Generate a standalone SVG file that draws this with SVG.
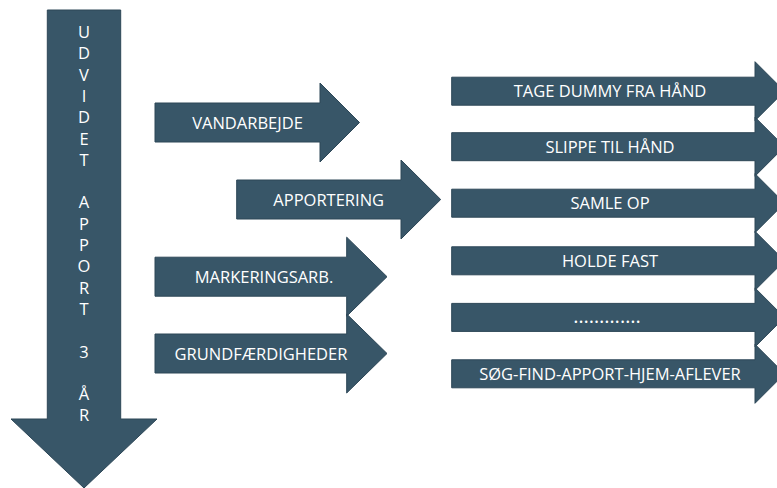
<svg xmlns="http://www.w3.org/2000/svg" width="777" height="488" viewBox="0 0 777 488">
<style>
.a{fill:#385668;stroke:#2d4757;stroke-width:1}
.t{font-family:"Open Sans","DejaVu Sans",sans-serif;font-size:16.5px;fill:#ffffff;text-anchor:middle}
</style>
<rect width="777" height="488" fill="#ffffff"/>
<g id="udvidet-apport">
<path class="a" d="M47.3,10 H120.7 V419 H157 L84,488 L11,419 H47.3 Z"/>
<text class="t" x="84" y="38">U</text>
<text class="t" x="84" y="59.3">D</text>
<text class="t" x="84" y="80.6">V</text>
<text class="t" x="84" y="101.9">I</text>
<text class="t" x="84" y="123.2">D</text>
<text class="t" x="84" y="144.5">E</text>
<text class="t" x="84" y="165.8">T</text>
<text class="t" x="84" y="208.4">A</text>
<text class="t" x="84" y="229.7">P</text>
<text class="t" x="84" y="251">P</text>
<text class="t" x="84" y="272.3">O</text>
<text class="t" x="84" y="293.6">R</text>
<text class="t" x="84" y="314.9">T</text>
<text class="t" x="84" y="357.5">3</text>
<text class="t" x="84" y="400.1">Å</text>
<text class="t" x="84" y="421.4">R</text>
</g>
<g id="vandarbejde">
<path class="a" d="M155,103 H320 V83 L359.5,122.5 L320,162 V142 H155 Z"/>
<text class="t" x="247.5" y="128.5">VANDARBEJDE</text>
</g>
<g id="apportering">
<path class="a" d="M236.7,180 H401 V160 L440.7,199.5 L401,239 V219 H236.7 Z"/>
<text class="t" x="328.7" y="205.5">APPORTERING</text>
</g>
<g id="markeringsarb">
<path class="a" d="M155,257.2 H346.7 V237.2 L387,276.7 L346.7,316.2 V296.2 H155 Z"/>
<text class="t" x="264" y="282.7">MARKERINGSARB.</text>
</g>
<g id="grundfaerdigheder">
<path class="a" d="M155,334 H346.7 V314 L387,353.5 L346.7,393 V373 H155 Z"/>
<text class="t" x="261" y="359.5">GRUNDFÆRDIGHEDER</text>
</g>
<g id="tage-dummy">
<path class="a" d="M451.7,77.2 H755 V61.7 L784.5,91.2 L755,120.7 V105.2 H451.7 Z"/>
<text class="t" x="610" y="97.2">TAGE DUMMY FRA HÅND</text>
</g>
<g id="slippe">
<path class="a" d="M451.7,132.7 H755 V117.2 L784.5,146.7 L755,176.2 V160.7 H451.7 Z"/>
<text class="t" x="610" y="152.7">SLIPPE TIL HÅND</text>
</g>
<g id="samle-op">
<path class="a" d="M451.7,189.2 H755 V173.7 L784.5,203.2 L755,232.7 V217.2 H451.7 Z"/>
<text class="t" x="610" y="209.2">SAMLE OP</text>
</g>
<g id="holde-fast">
<path class="a" d="M451.7,246.8 H755 V231.3 L784.5,260.8 L755,290.3 V274.8 H451.7 Z"/>
<text class="t" x="610" y="266.8">HOLDE FAST</text>
</g>
<g id="dots">
<path class="a" d="M451.7,303.4 H755 V287.9 L784.5,317.4 L755,346.9 V331.4 H451.7 Z"/>
<text class="t" x="607" y="323.4" style="font-size:20px">………….</text>
</g>
<g id="soeg-find">
<path class="a" d="M451.7,359.8 H755 V344.3 L784.5,373.8 L755,403.3 V387.8 H451.7 Z"/>
<text class="t" x="610" y="379.8">SØG-FIND-APPORT-HJEM-AFLEVER</text>
</g>
<g id="connectors"></g>
</svg>
